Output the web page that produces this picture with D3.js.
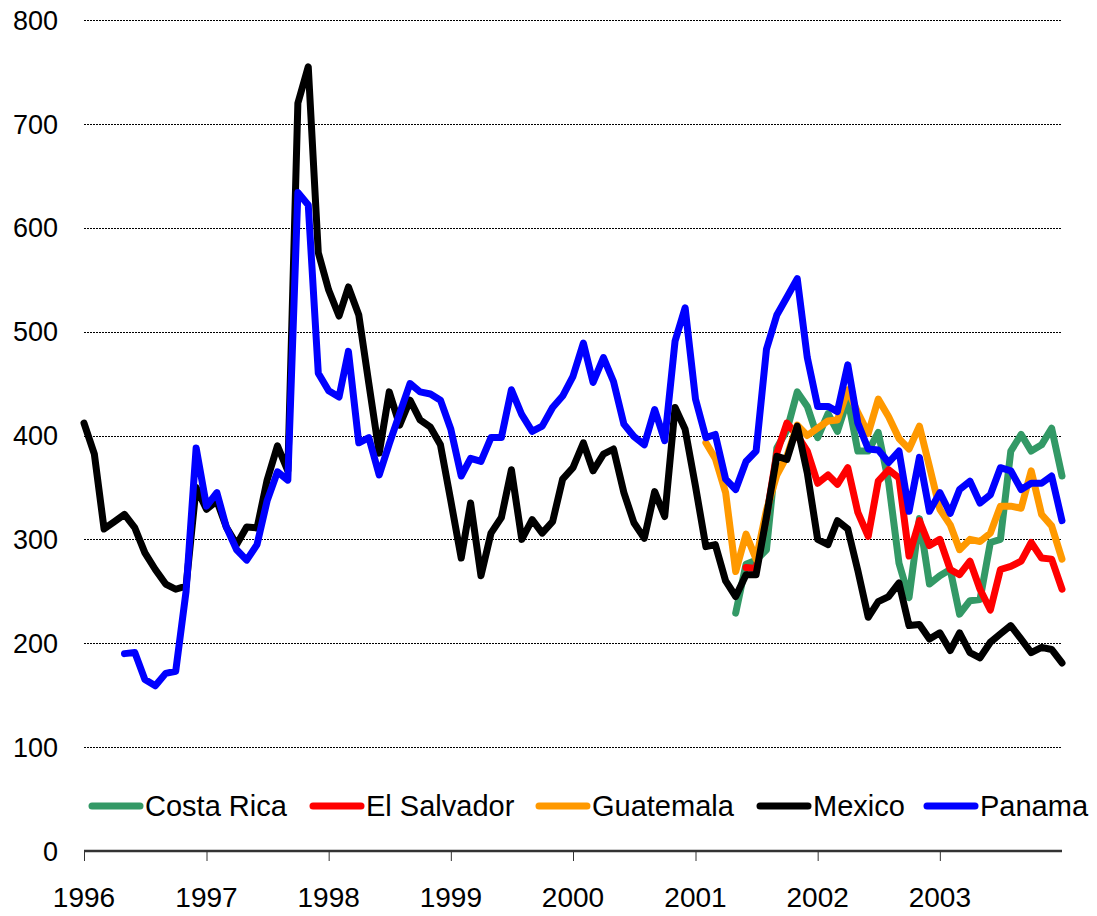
<!DOCTYPE html>
<html>
<head>
<meta charset="utf-8">
<script src="https://cdn.jsdelivr.net/npm/d3@7"></script>
<style>
  body { margin: 0; background: #fff; }
  text { font-family: Arial, 'Liberation Sans', sans-serif; fill: #000; }
</style>
</head>
<body>
<div id="chart"></div>
<script>
// monthly spreads, first month of each series given separately
const seriesNames = ['Costa Rica', 'El Salvador', 'Guatemala', 'Mexico', 'Panama'];
const seriesColors = ['#339966', '#ff0000', '#ff9900', '#000000', '#0000ff'];
const seriesStart = ['2001-05', '2001-06', '2001-02', '1996-01', '1996-05'];

const costaRica = [229, 276, 280, 290, 388, 405, 442, 428, 398, 421,
  404, 435, 385, 385, 403, 355, 277, 244, 320, 257,
  265, 271, 228, 241, 242, 297, 300, 385, 401, 385,
  391, 407, 361];
const elSalvador = [273, 272, 322, 383, 412, 400, 385, 354, 362, 353,
  369, 326, 303, 356, 367, 359, 284, 318, 294, 300,
  271, 266, 279, 252, 232, 271, 274, 279, 297, 282,
  281, 252];
const guatemala = [393, 378, 345, 269, 305, 281, 328, 362, 380, 410,
  400, 407, 414, 415, 444, 422, 402, 435, 418, 397,
  387, 409, 370, 329, 314, 290, 300, 298, 306, 332,
  332, 330, 366, 324, 313, 281];
const mexico = [412, 382, 310, 317, 324, 311, 287, 271, 257, 252,
  255, 350, 329, 337, 312, 295, 312, 311, 357, 390,
  366, 720, 755, 576, 540, 515, 543, 516, 450, 383,
  442, 410, 434, 415, 408, 391, 337, 282, 335, 265,
  306, 321, 367, 300, 319, 306, 317, 358, 369, 393,
  366, 382, 387, 345, 316, 301, 346, 322, 427, 406,
  351, 293, 295, 260, 245, 266, 266, 322, 380, 377,
  409, 364, 300, 295, 318, 310, 270, 225, 240, 245,
  258, 217, 218, 204, 210, 193, 210, 191, 186, 201,
  209, 217, 204, 191, 196, 194, 181];
const panama = [190, 191, 165, 159, 171, 173, 250, 388, 332, 345,
  312, 290, 280, 295, 337, 365, 357, 634, 622, 460,
  443, 437, 481, 393, 398, 362, 392, 421, 450, 442,
  440, 434, 406, 361, 378, 375, 398, 398, 444, 420,
  404, 409, 427, 438, 457, 489, 451, 475, 452, 411,
  399, 391, 425, 395, 491, 523, 435, 398, 401, 358,
  348, 375, 385, 483, 516, 533, 551, 475, 428, 428,
  423, 468, 412, 387, 386, 374, 385, 327, 379, 327,
  345, 325, 348, 356, 335, 343, 369, 366, 348, 354,
  354, 361, 318];

const yearLabels = ['1996', '1997', '1998', '1999', '2000', '2001', '2002', '2003'];
const yTicks = [0, 100, 200, 300, 400, 500, 600, 700, 800];

const seriesValues = [costaRica, elSalvador, guatemala, mexico, panama];

const width = 1097;
const height = 916;
const parseMonth = d3.timeParse('%Y-%m');

const x = d3.scaleTime()
  .domain([new Date(1996, 0, 1), new Date(2004, 0, 1)])
  .range([84, 1062]);

const y = d3.scaleLinear()
  .domain([0, 800])
  .range([851, 20]);

const svg = d3.select('#chart').append('svg')
  .attr('width', width)
  .attr('height', height)
  .style('background', '#fff');

// gridlines
svg.append('g')
  .selectAll('line')
  .data(yTicks.filter(d => d > 0))
  .join('line')
  .attr('x1', x.range()[0])
  .attr('x2', x.range()[1])
  .attr('y1', d => Math.round(y(d)) + 0.5)
  .attr('y2', d => Math.round(y(d)) + 0.5)
  .attr('stroke', '#000')
  .attr('stroke-width', 1)
  .attr('stroke-dasharray', '2,1');

// y labels
svg.append('g')
  .selectAll('text')
  .data(yTicks)
  .join('text')
  .attr('x', 58)
  .attr('y', d => y(d))
  .attr('dy', '0.36em')
  .attr('text-anchor', 'end')
  .style('font-size', '27px')
  .text(d => d);

// x axis
const xAxis = d3.axisBottom(x)
  .tickValues(yearLabels.map(d => new Date(+d, 0, 1)))
  .tickSize(10)
  .tickFormat('');

const gx = svg.append('g')
  .attr('transform', `translate(0,${y(0)})`)
  .call(xAxis);
gx.select('.domain')
  .attr('d', `M${x.range()[0]},0H${x.range()[1]}`)
  .attr('stroke', '#333')
  .attr('stroke-width', 2.5);
gx.selectAll('.tick line').attr('stroke', '#333').attr('stroke-width', 1);

svg.append('g')
  .selectAll('text')
  .data(yearLabels)
  .join('text')
  .attr('x', d => x(new Date(+d, 0, 1)))
  .attr('y', 907)
  .attr('text-anchor', 'middle')
  .style('font-size', '28px')
  .text(d => d);

// series
const line = d3.line()
  .x(d => x(d.date))
  .y(d => y(d.value));

seriesNames.forEach((name, i) => {
  const start = parseMonth(seriesStart[i]);
  const points = seriesValues[i].map((v, j) => ({ date: d3.timeMonth.offset(start, j), value: v }));
  svg.append('path')
    .datum(points)
    .attr('fill', 'none')
    .attr('stroke', seriesColors[i])
    .attr('stroke-width', 7)
    .attr('stroke-linejoin', 'round')
    .attr('stroke-linecap', 'round')
    .attr('d', line);
});

// legend
const legendX = [92, 313, 539, 760, 927];
const legend = svg.append('g')
  .selectAll('g')
  .data(seriesNames)
  .join('g')
  .attr('transform', (d, i) => `translate(${legendX[i]},806)`);

legend.append('line')
  .attr('x1', 0)
  .attr('x2', 48)
  .attr('stroke', (d, i) => seriesColors[i])
  .attr('stroke-width', 7)
  .attr('stroke-linecap', 'round');

legend.append('text')
  .attr('x', 53)
  .attr('dy', '0.36em')
  .style('font-size', '29px')
  .text(d => d);
</script>
</body>
</html>
